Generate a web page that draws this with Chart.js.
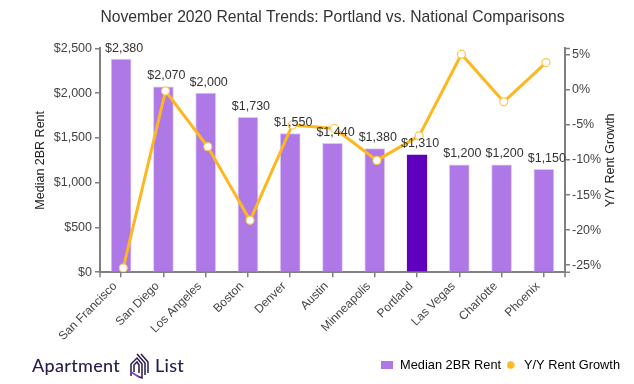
<!DOCTYPE html>
<html lang="en">
<head>
  <meta charset="UTF-8">
  <title>November 2020 Rental Trends</title>
  <script src="https://cdn.jsdelivr.net/npm/chart.js"></script>
  <style>
    body { margin: 0; background: #fff; font-family: "Liberation Sans", Arial, sans-serif; }
    #wrap { position: relative; width: 634px; height: 384px; overflow: hidden; }
    .logo { position: absolute; top: 354px; font: 500 18px Lato, sans-serif; color: #2b1a4d; letter-spacing: 0.3px; }
    #mark { position: absolute; left: 128px; top: 353px; }
  </style>
</head>
<body>
  <div id="wrap">
    <canvas id="chart" width="634" height="384"></canvas>
    <!-- Logo -->
    <span class="logo" style="left:32px">Apartment</span>
    <svg id="mark" width="22" height="27" viewBox="0 0 22 27" fill="none" stroke-width="1.5">
      <path d="M3 23V11l6-6 5 6v14l-5-2" stroke="#2b1a4d"/>
      <path d="M6 19v-7l3-3 2 3v8" stroke="#2b1a4d"/>
      <path d="M3 19l8 5" stroke="#7b3fd1"/>
      <path d="M9 1l8 9v12" stroke="#2b1a4d"/>
      <path d="M13 1l7 8v11" stroke="#2b1a4d"/>
    </svg>
    <span class="logo" style="left:155px">List</span>
  </div>

  <script>
    const TITLE = "November 2020 Rental Trends: Portland vs. National Comparisons";
    const cities = ["San Francisco", "San Diego", "Los Angeles", "Boston", "Denver", "Austin",
      "Minneapolis", "Portland", "Las Vegas", "Charlotte", "Phoenix"];
    const rent = [2380, 2070, 2000, 1730, 1550, 1440, 1380, 1310, 1200, 1200, 1150];
    const growth = [-25.4, -0.15, -8.1, -18.6, -5.0, -5.5, -10.05, -6.55, 5.1, -1.7, 3.9];
    const growthTicks = [5, 0, -5, -10, -15, -20, -25];

    const PURPLE = "#ae78e6";
    const PURPLE_EDGE = "#dcc8f5";
    const DARK_PURPLE = "#5f00be";
    const GOLD = "#fdb71f";
    const AXIS = "#808080";
    const TEXT = "#444444";
    const FONT = "'Liberation Sans', Arial, sans-serif";

    // the growth line sits about 2px right of the bars in the original
    const LINE_SHIFT = 0.05;

    function money(v) {
      return "$" + v.toLocaleString("en-US");
    }

    // small canvases used as legend markers
    function legendBox() {
      const c = document.createElement("canvas");
      c.width = 12; c.height = 8;
      const g = c.getContext("2d");
      g.fillStyle = PURPLE;
      g.fillRect(0, 0, 12, 8);
      return c;
    }

    function legendDot() {
      const c = document.createElement("canvas");
      c.width = 8; c.height = 8;
      const g = c.getContext("2d");
      g.fillStyle = GOLD;
      g.arc(4, 4, 3.7, 0, Math.PI * 2);
      g.fill();
      return c;
    }

    // value labels, axis titles and the end ticks Chart.js has no option for
    const extras = {
      id: "extras",
      afterDatasetsDraw(chart) {
        const ctx = chart.ctx;
        const bars = chart.getDatasetMeta(1).data;
        ctx.save();
        ctx.font = "12.5px " + FONT;
        ctx.fillStyle = "#333333";
        ctx.textAlign = "center";
        ctx.textBaseline = "middle";
        bars.forEach((bar, i) => ctx.fillText(money(rent[i]), bar.x + 3, bar.y - 11));
        ctx.restore();
      },
      afterDraw(chart) {
        const ctx = chart.ctx;
        const a = chart.chartArea;
        ctx.save();
        ctx.strokeStyle = AXIS;
        ctx.lineWidth = 1.5;
        ctx.beginPath();
        ctx.moveTo(a.left, a.bottom); ctx.lineTo(a.left, a.bottom + 5);
        ctx.moveTo(a.right, a.bottom); ctx.lineTo(a.right, a.bottom + 5);
        ctx.moveTo(a.right, a.top); ctx.lineTo(a.right + 5, a.top);
        ctx.moveTo(a.right, a.bottom); ctx.lineTo(a.right + 5, a.bottom);
        ctx.stroke();

        ctx.font = "12.5px " + FONT;
        ctx.fillStyle = "#222222";
        ctx.textAlign = "center";
        ctx.textBaseline = "middle";
        [["Median 2BR Rent", 41], ["Y/Y Rent Growth", 611]].forEach(([text, x]) => {
          ctx.save();
          ctx.translate(x, (a.top + a.bottom) / 2);
          ctx.rotate(-Math.PI / 2);
          ctx.fillText(text, 0, 0);
          ctx.restore();
        });
        ctx.restore();
      }
    };

    new Chart(document.getElementById("chart").getContext("2d"), {
      data: {
        labels: cities,
        datasets: [
          {
            type: "line",
            label: "Y/Y Rent Growth",
            data: growth.map((v, i) => ({ x: i, y: v })),
            xAxisID: "x2",
            yAxisID: "y2",
            order: 1,
            borderColor: GOLD,
            borderWidth: 3,
            tension: 0,
            pointRadius: 4,
            pointBorderWidth: 1.2,
            pointBackgroundColor: "#ffffff",
            pointBorderColor: "#fdc651"
          },
          {
            type: "bar",
            label: "Median 2BR Rent",
            data: rent,
            xAxisID: "x",
            yAxisID: "y",
            order: 2,
            grouped: false,
            barThickness: 20,
            backgroundColor: cities.map(c => c === "Portland" ? DARK_PURPLE : PURPLE),
            borderColor: cities.map(c => c === "Portland" ? DARK_PURPLE : PURPLE_EDGE),
            borderWidth: { top: 1, left: 1, right: 1, bottom: 0 }
          }
        ]
      },
      options: {
        responsive: false,
        animation: false,
        layout: { padding: { left: 0, right: 11.5, top: 0, bottom: 2.5 } },
        plugins: {
          title: {
            display: true,
            fullSize: false,
            text: TITLE,
            color: "#333333",
            font: { family: FONT, size: 15.7, weight: "normal" },
            padding: { top: 8, bottom: 21.6 }
          },
          tooltip: { enabled: false },
          legend: {
            position: "bottom",
            align: "end",
            labels: {
              color: TEXT,
              font: { family: FONT, size: 12.8 },
              usePointStyle: true,
              pointStyleWidth: 14,
              padding: 2.5,
              generateLabels: () => [
                { text: "Median 2BR Rent", pointStyle: legendBox(), lineWidth: 0 },
                { text: "Y/Y Rent Growth", pointStyle: legendDot(), lineWidth: 0 }
              ]
            }
          }
        },
        scales: {
          x: {
            type: "category",
            offset: true,
            afterFit(s) { s.height = 84; },
            grid: { drawOnChartArea: false, offset: false, color: AXIS, lineWidth: 1.5, tickLength: 5 },
            border: { color: AXIS, width: 2 },
            ticks: {
              color: TEXT,
              font: { family: FONT, size: 12 },
              minRotation: 45,
              maxRotation: 45,
              autoSkip: false,
              padding: 2,
              labelOffset: -6
            }
          },
          x2: { type: "linear", display: false, min: -0.5 - LINE_SHIFT, max: 10.5 - LINE_SHIFT },
          y: {
            position: "left",
            min: 0,
            max: 2500,
            afterFit(s) { s.width = 100; },
            grid: { drawOnChartArea: false, color: AXIS, lineWidth: 1.5, tickLength: 5 },
            border: { color: AXIS, width: 2 },
            ticks: {
              stepSize: 500,
              color: TEXT,
              font: { family: FONT, size: 12.5 },
              padding: 3,
              callback: v => money(v)
            }
          },
          y2: {
            position: "right",
            min: -26,
            max: 5.92,
            afterFit(s) { s.width = 57.5; },
            afterBuildTicks(s) { s.ticks = growthTicks.map(v => ({ value: v })); },
            grid: { drawOnChartArea: false, color: AXIS, lineWidth: 1.5, tickLength: 5 },
            border: { color: AXIS, width: 2 },
            ticks: {
              color: TEXT,
              font: { family: FONT, size: 12.5 },
              padding: 2,
              callback: v => v + "%"
            }
          }
        }
      },
      plugins: [extras]
    });
  </script>
</body>
</html>
